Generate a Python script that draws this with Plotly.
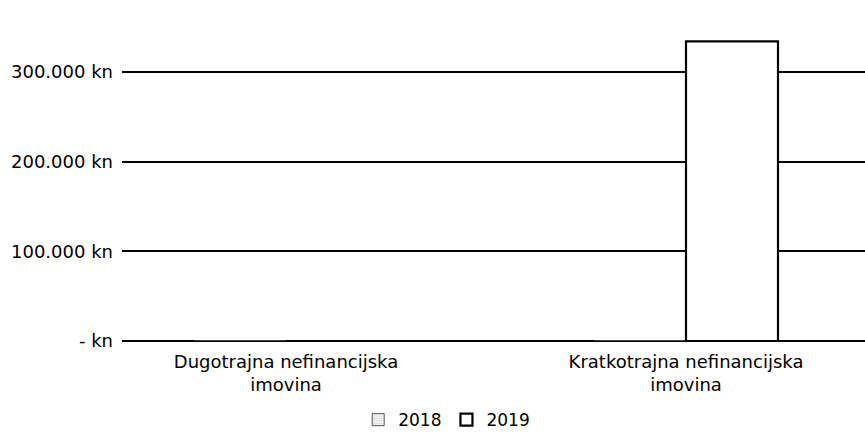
import plotly.graph_objects as go

categories = ["Dugotrajna nefinancijska<br>imovina", "Kratkotrajna nefinancijska<br>imovina"]
values_2018 = [0, 0]
values_2019 = [0, 334000]
tick_vals = [0, 100000, 200000, 300000]
tick_text = ["- kn", "100.000 kn", "200.000 kn", "300.000 kn"]

FONT = "DejaVu Sans"

fig = go.Figure()
fig.add_trace(go.Bar(
    name="2018", x=categories, y=values_2018,
    marker=dict(color="white", line=dict(color="#555555", width=1),
                pattern=dict(shape=".", fgcolor="#8a8a8a", size=3, solidity=0.4)),
))
fig.add_trace(go.Bar(
    name="2019", x=categories, y=values_2019,
    marker=dict(color="white", line=dict(color="black", width=2.2)),
))

fig.update_layout(
    width=865, height=439,
    paper_bgcolor="white", plot_bgcolor="white",
    barmode="group", bargap=0.54, bargroupgap=0,
    margin=dict(l=122, r=0, t=0, b=98),
    font=dict(family=FONT, size=18, color="black"),
    legend=dict(orientation="h", x=0.437, xanchor="center", y=-0.232, yanchor="middle",
                font=dict(family=FONT, size=17, color="black"), traceorder="normal"),
    xaxis=dict(range=[-0.41, 1.4475], showgrid=False, zeroline=False, showline=False,
               tickfont=dict(family=FONT, size=18, color="black"), ticks="",
               ticklabelstandoff=8),
    yaxis=dict(range=[0, 380000], tickvals=tick_vals, ticktext=tick_text,
               showgrid=True, gridcolor="black", gridwidth=1.5,
               zeroline=True, zerolinecolor="black", zerolinewidth=1.5,
               showline=False, ticks="", ticklabelstandoff=8,
               tickfont=dict(family=FONT, size=18, color="black")),
)

# drop the default body margin so the figure sits at the page corner
fig.write_html("out.html",
               config={"displayModeBar": False},
               post_script="document.body.style.margin='0';document.body.style.overflow='hidden';")
